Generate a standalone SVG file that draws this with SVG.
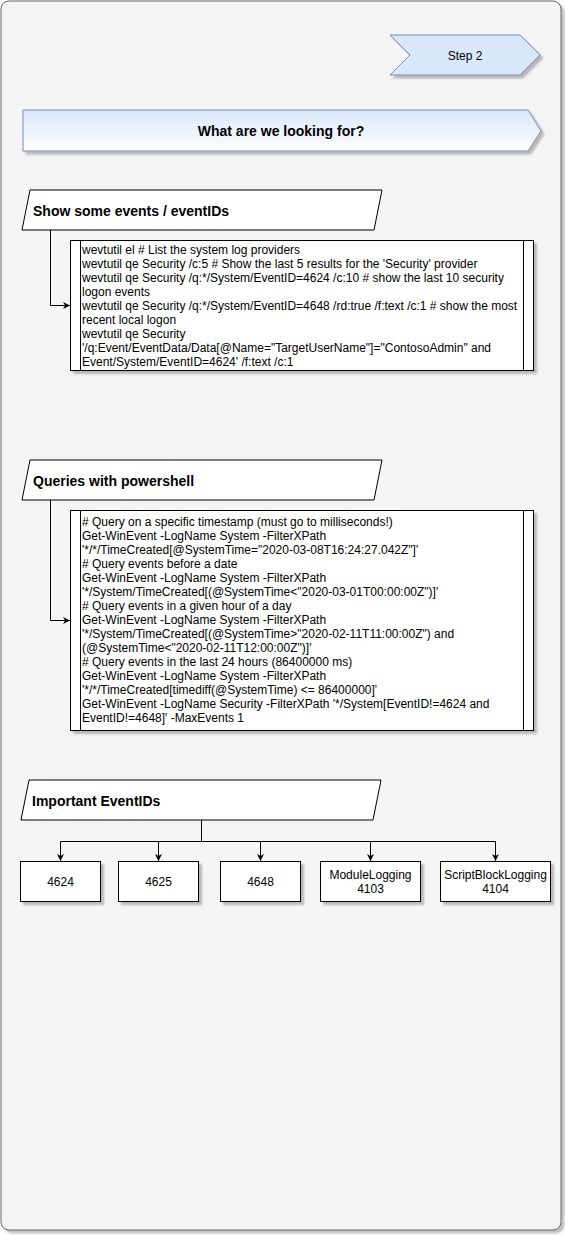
<svg xmlns="http://www.w3.org/2000/svg" width="565" height="1235" viewBox="0 0 565 1235">
<defs>
<filter id="sh" x="-10%" y="-10%" width="130%" height="130%">
<feDropShadow dx="3" dy="3" stdDeviation="0.8" flood-color="#000" flood-opacity="0.25"/>
</filter>
<linearGradient id="g1" x1="0" y1="0" x2="0" y2="1">
<stop offset="0" stop-color="#dae8fc"/>
<stop offset="1" stop-color="#ffffff"/>
</linearGradient>
<marker id="arr" viewBox="0 0 10 10" refX="10" refY="5" markerWidth="7" markerHeight="7" orient="auto" markerUnits="userSpaceOnUse">
<path d="M0,0 L10,5 L0,10 L3,5 Z" fill="#000"/>
</marker>
</defs>
<style>
text{font-family:"Liberation Sans",Arial,sans-serif;fill:#000}
.t{font-size:12px}
.h{font-size:14px;font-weight:bold}
.box{fill:#fff;stroke:#000;stroke-width:1}
.para{fill:#fff;stroke:#000;stroke-width:1}
.line{fill:none;stroke:#000;stroke-width:1}
.c{text-anchor:middle}
</style>
<rect id="container" x="1" y="1" width="560" height="1229" rx="8" fill="#f5f5f5" stroke="#666" filter="url(#sh)"/>

<g id="step2">
<path d="M390,35 L520,35 L540,55 L520,75 L390,75 L410,55 Z" fill="#dae8fc" stroke="#6c8ebf" filter="url(#sh)"/>
<text class="t c" x="465" y="59.5">Step 2</text>
</g>

<g id="looking">
<path d="M23,110 L528,110 L541,131 L528,151 L23,151 Z" fill="url(#g1)" stroke="#6c8ebf" filter="url(#sh)"/>
<text class="h c" x="281" y="136">What are we looking for?</text>
</g>

<g id="show-events">
<path class="para" d="M30,190 L382,190 L374,230 L22,230 Z"/>
<text class="h" x="33" y="216">Show some events / eventIDs</text>
</g>

<g id="wevtutil">
<rect class="box" x="70.5" y="240.5" width="463" height="130" filter="url(#sh)"/>
<line class="line" x1="80.5" y1="240.5" x2="80.5" y2="370.5"/>
<line class="line" x1="523.5" y1="240.5" x2="523.5" y2="370.5"/>
<text class="t" x="82">
<tspan x="82" y="254">wevtutil el # List the system log providers</tspan>
<tspan x="82" y="268">wevtutil qe Security /c:5 # Show the last 5 results for the 'Security' provider</tspan>
<tspan x="82" y="282">wevtutil qe Security /q:*/System/EventID=4624 /c:10 # show the last 10 security</tspan>
<tspan x="82" y="296">logon events</tspan>
<tspan x="82" y="310">wevtutil qe Security /q:*/System/EventID=4648 /rd:true /f:text /c:1 # show the most</tspan>
<tspan x="82" y="324">recent local logon</tspan>
<tspan x="82" y="338">wevtutil qe Security</tspan>
<tspan x="82" y="352">'/q:Event/EventData/Data[@Name="TargetUserName"]="ContosoAdmin" and</tspan>
<tspan x="82" y="366">Event/System/EventID=4624' /f:text /c:1</tspan>
</text>
</g>

<g id="queries-ps">
<path class="para" d="M30,460 L382,460 L374,500 L22,500 Z"/>
<text class="h" x="33" y="486">Queries with powershell</text>
</g>

<g id="powershell">
<rect class="box" x="70.5" y="510.5" width="463" height="220" filter="url(#sh)"/>
<line class="line" x1="80.5" y1="510.5" x2="80.5" y2="730.5"/>
<line class="line" x1="523.5" y1="510.5" x2="523.5" y2="730.5"/>
<text class="t" x="82">
<tspan x="82" y="526"># Query on a specific timestamp (must go to milliseconds!)</tspan>
<tspan x="82" y="540">Get-WinEvent -LogName System -FilterXPath</tspan>
<tspan x="82" y="554">'*/*/TimeCreated[@SystemTime="2020-03-08T16:24:27.042Z"]'</tspan>
<tspan x="82" y="568"># Query events before a date</tspan>
<tspan x="82" y="582">Get-WinEvent -LogName System -FilterXPath</tspan>
<tspan x="82" y="596">'*/System/TimeCreated[(@SystemTime&lt;"2020-03-01T00:00:00Z")]'</tspan>
<tspan x="82" y="610"># Query events in a given hour of a day</tspan>
<tspan x="82" y="624">Get-WinEvent -LogName System -FilterXPath</tspan>
<tspan x="82" y="638">'*/System/TimeCreated[(@SystemTime&gt;"2020-02-11T11:00:00Z") and</tspan>
<tspan x="82" y="652">(@SystemTime&lt;"2020-02-11T12:00:00Z")]'</tspan>
<tspan x="82" y="666"># Query events in the last 24 hours (86400000 ms)</tspan>
<tspan x="82" y="680">Get-WinEvent -LogName System -FilterXPath</tspan>
<tspan x="82" y="694">'*/*/TimeCreated[timediff(@SystemTime) &lt;= 86400000]'</tspan>
<tspan x="82" y="708">Get-WinEvent -LogName Security -FilterXPath '*/System[EventID!=4624 and</tspan>
<tspan x="82" y="722">EventID!=4648]' -MaxEvents 1</tspan>
</text>
</g>

<g id="important">
<path class="para" d="M29,780 L381,780 L373,820 L21,820 Z"/>
<text class="h" x="32" y="806">Important EventIDs</text>
</g>

<g id="e4624">
<rect class="box" x="20.5" y="861.5" width="80" height="40" filter="url(#sh)"/>
<text class="t c" x="60.5" y="886">4624</text>
</g>
<g id="e4625">
<rect class="box" x="118.5" y="861.5" width="80" height="40" filter="url(#sh)"/>
<text class="t c" x="158.5" y="886">4625</text>
</g>
<g id="e4648">
<rect class="box" x="220.5" y="861.5" width="80" height="40" filter="url(#sh)"/>
<text class="t c" x="260.5" y="886">4648</text>
</g>
<g id="e4103">
<rect class="box" x="320.5" y="861.5" width="100" height="40" filter="url(#sh)"/>
<text class="t c" x="370.5" y="879">ModuleLogging</text>
<text class="t c" x="370.5" y="893">4103</text>
</g>
<g id="e4104">
<rect class="box" x="440.5" y="861.5" width="110" height="40" filter="url(#sh)"/>
<text class="t c" x="495.5" y="879">ScriptBlockLogging</text>
<text class="t c" x="495.5" y="893">4104</text>
</g>

<g id="connectors">
<path class="line" d="M50.5,230 L50.5,305.5 L70,305.5" marker-end="url(#arr)"/>
<path class="line" d="M50.5,500 L50.5,620.5 L70,620.5" marker-end="url(#arr)"/>
<path class="line" d="M201.5,820 L201.5,841.5 L60.5,841.5 L60.5,861" marker-end="url(#arr)"/>
<path class="line" d="M201.5,820 L201.5,841.5 L158.5,841.5 L158.5,861" marker-end="url(#arr)"/>
<path class="line" d="M201.5,820 L201.5,841.5 L260.5,841.5 L260.5,861" marker-end="url(#arr)"/>
<path class="line" d="M201.5,820 L201.5,841.5 L370.5,841.5 L370.5,861" marker-end="url(#arr)"/>
<path class="line" d="M201.5,820 L201.5,841.5 L495.5,841.5 L495.5,861" marker-end="url(#arr)"/>
</g>
</svg>
